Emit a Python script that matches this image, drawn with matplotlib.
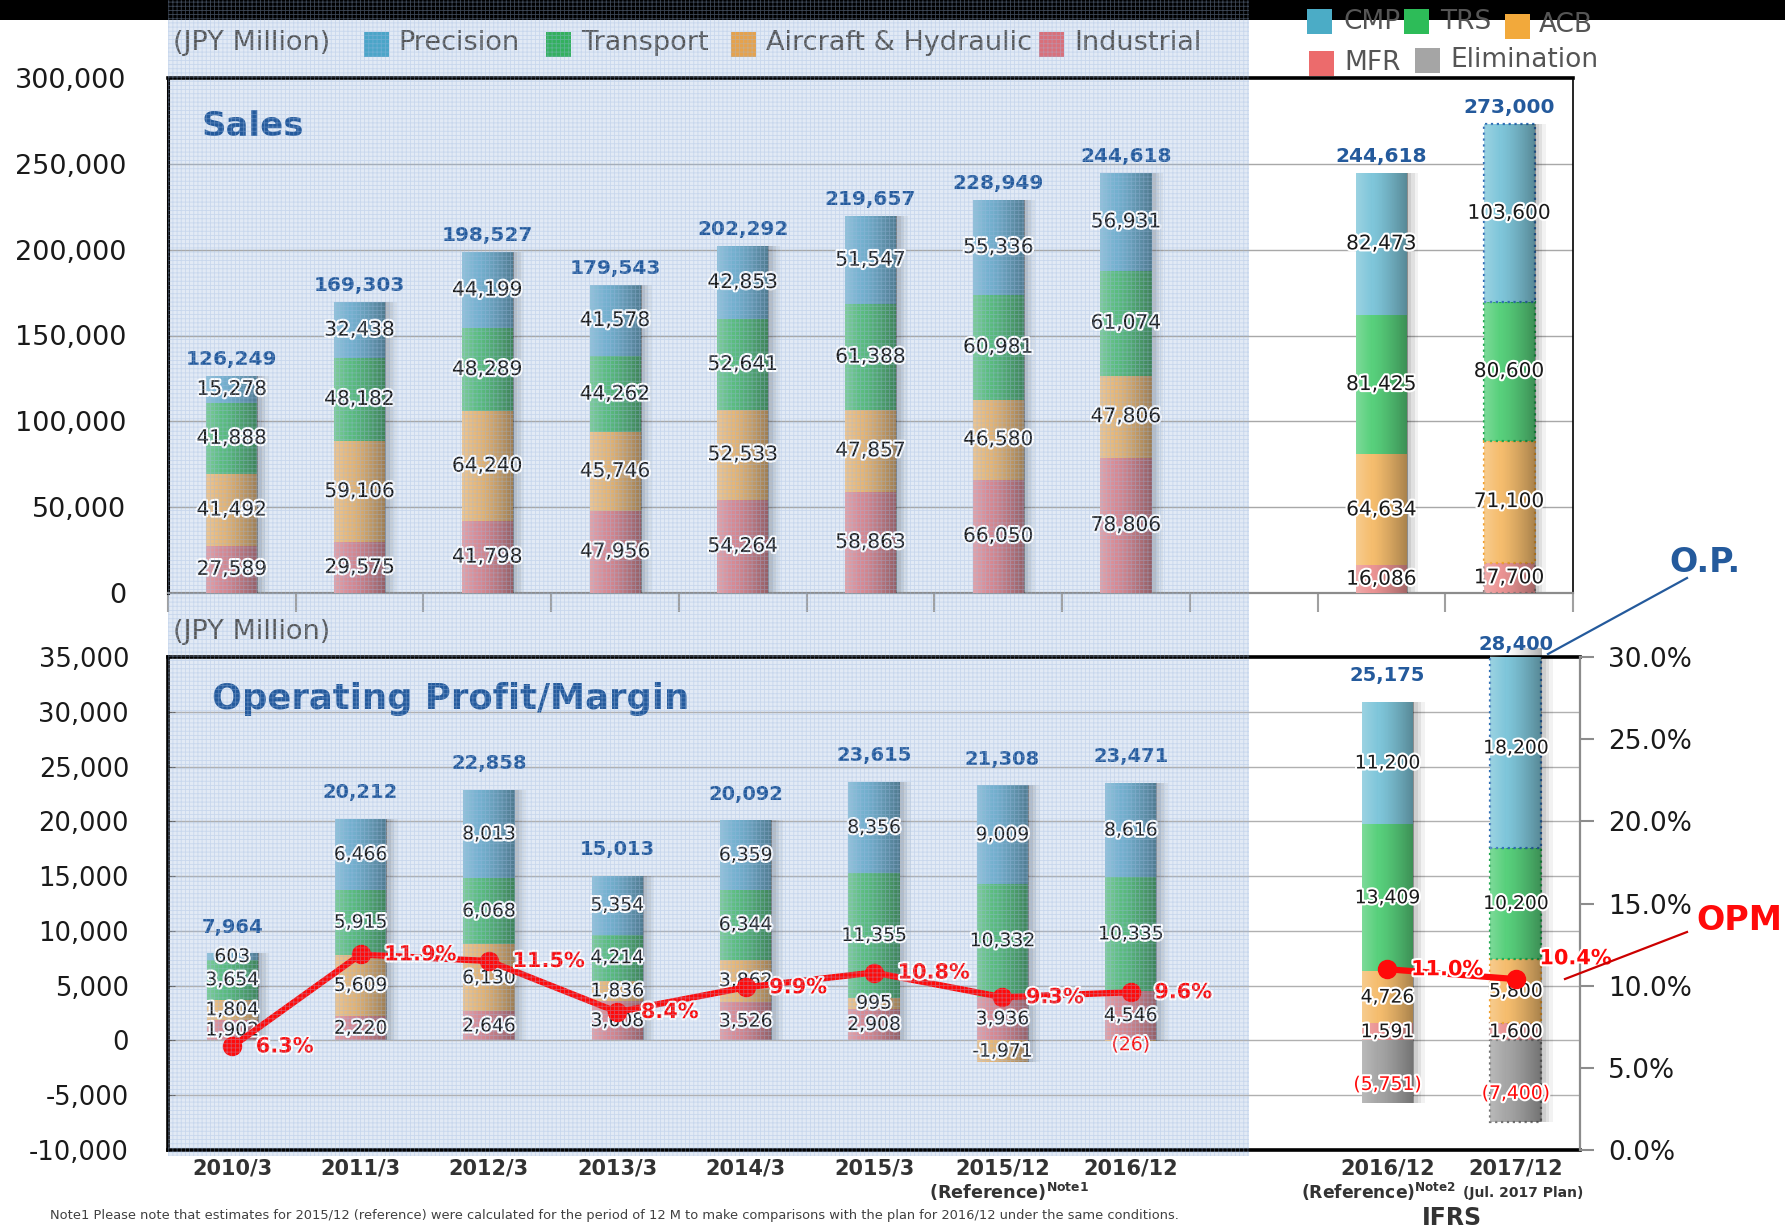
import numpy as np
import matplotlib
matplotlib.use("Agg")
import matplotlib.pyplot as plt
import matplotlib.patheffects as pe
import matplotlib.ticker as mticker
from matplotlib.patches import Rectangle
from matplotlib.lines import Line2D
from matplotlib.transforms import blended_transform_factory

W, H, DPI = 1785, 1229, 100
plt.rcParams['font.family'] = ['DejaVu Sans']
plt.rcParams['hatch.linewidth'] = 0.6

# datos -------------------------------------------------------------------------------------
categories = ["2010/3", "2011/3", "2012/3", "2013/3", "2014/3", "2015/3", "2015/12", "2016/12"]
ifrs_categories = ["2016/12", "2017/12"]

sales_industrial = [27589, 29575, 41798, 47956, 54264, 58863, 66050, 78806]
sales_aircraft = [41492, 59106, 64240, 45746, 52533, 47857, 46580, 47806]
sales_transport = [41888, 48182, 48289, 44262, 52641, 61388, 60981, 61074]
sales_precision = [15278, 32438, 44199, 41578, 42853, 51547, 55336, 56931]
sales_total = [126249, 169303, 198527, 179543, 202292, 219657, 228949, 244618]

ifrs_sales_mfr = [16086, 17700]
ifrs_sales_acb = [64634, 71100]
ifrs_sales_trs = [81425, 80600]
ifrs_sales_cmp = [82473, 103600]
ifrs_sales_total = [244618, 273000]

op_industrial = [1902, 2220, 2646, 3608, 3526, 2908, 3936, 4546]
op_aircraft = [1804, 5609, 6130, 1836, 3862, 995, -1971, -26]
op_transport = [3654, 5915, 6068, 4214, 6344, 11355, 10332, 10335]
op_precision = [603, 6466, 8013, 5354, 6359, 8356, 9009, 8616]
op_total = [7964, 20212, 22858, 15013, 20092, 23615, 21308, 23471]
opm = [6.3, 11.9, 11.5, 8.4, 9.9, 10.8, 9.3, 9.6]

ifrs_op_mfr = [1591, 1600]
ifrs_op_acb = [4726, 5800]
ifrs_op_trs = [13409, 10200]
ifrs_op_cmp = [11200, 18200]
ifrs_op_elim = [-5751, -7400]
ifrs_op_total = [25175, 28400]
ifrs_opm = [11.0, 10.4]

sales_ticks = [0, 50000, 100000, 150000, 200000, 250000, 300000]
op_ticks = [-10000, -5000, 0, 5000, 10000, 15000, 20000, 25000, 30000, 35000]
opm_ticks = [0, 5, 10, 15, 20, 25, 30]

# estilos -----------------------------------------------------------------------------------
BLUE = "#245a9c"
RED = "#ff0a0a"
TXT = "#1a1a1a"
GRAYTXT = "#555555"
HALO = [pe.withStroke(linewidth=3, foreground="white")]
BAR_W = 0.40

COL_LEFT = ["#d88a93", "#e6b677", "#5bbd80", "#74b1cf"]           # industrial, aircraft, transport, precision
COL_RIGHT = ["#eb9494", "#f5bd6e", "#58d07c", "#7fc6da", "#a6a6a6"]  # mfr, acb, trs, cmp, elim
EDGE_RIGHT = ["#9a8080", "#f0a030", "#1fa84f", "#2f6fb5", "#707070"]

# gradiente horizontal tipo cilindro
t = np.linspace(0, 1, 64)
GRAD = np.zeros((1, 64, 4))
light = t < 0.3
GRAD[0, light, :3] = 1.0
GRAD[0, light, 3] = 0.22 * (1 - t[light] / 0.3)
GRAD[0, ~light, 3] = 0.32 * ((t[~light] - 0.3) / 0.7) ** 1.3


def fx(px):
    return px / W


def fy(py):
    return 1 - py / H


def shade(ax, patch):
    x0, w = patch.get_x(), patch.get_width()
    y0, h = patch.get_y(), patch.get_height()
    im = ax.imshow(GRAD, extent=(x0, x0 + w, min(y0, y0 + h), max(y0, y0 + h)),
                   aspect="auto", interpolation="bilinear", zorder=3.2)
    im.set_clip_path(patch)


def draw_stack(ax, xs, layers, colors, plan_idx=None, edges=None):
    xs = np.asarray(xs, float)
    pos = np.zeros(len(xs))
    neg = np.zeros(len(xs))
    bottoms = []
    for k, (vals, col) in enumerate(zip(layers, colors)):
        vals = np.asarray(vals, float)
        bottom = np.where(vals >= 0, pos, neg)
        bars = ax.bar(xs, vals, BAR_W, bottom=bottom, color=col, linewidth=0, zorder=3)
        for j, p in enumerate(bars.patches):
            shade(ax, p)
            if plan_idx is not None and j == plan_idx:
                p.set_edgecolor(edges[k])
                p.set_linewidth(1.6)
                p.set_linestyle(":")
        bottoms.append(bottom)
        pos = pos + np.where(vals > 0, vals, 0)
        neg = neg + np.where(vals < 0, vals, 0)
    # sombra suave a la derecha
    for off, a in [(0.09, 0.05), (0.06, 0.07), (0.035, 0.08)]:
        ax.bar(xs + off, pos - neg, BAR_W, bottom=neg, color="k", alpha=a, linewidth=0, zorder=2.5)
    return pos, neg, bottoms


def plain(v):
    return f"{int(v):,}", TXT, 0


def paren_red(v):
    return f"({abs(int(v)):,})", RED, -9


def op_air(v):
    # los negativos pequeños aparecen entre parentesis en rojo
    if -100 < v < 0:
        return f"({abs(int(v)):,})", RED, -3
    return plain(v)


def label_segments(ax, xs, layers, bottoms, fs, styles):
    for vals, bots, style in zip(layers, bottoms, styles):
        for x, v, b in zip(xs, vals, bots):
            txt, col, dy = style(v)
            ax.annotate(txt, (x, b + v / 2), xytext=(0, dy), textcoords="offset points",
                        ha="center", va="center", fontsize=fs, color=col, zorder=8,
                        path_effects=HALO)


fig = plt.figure(figsize=(W / DPI, H / DPI), dpi=DPI, facecolor="white")

# banda negra superior y fondo azul de la zona historica
fig.patches.append(Rectangle((0, fy(20)), 1, 20 / H, transform=fig.transFigure,
                             facecolor="black", edgecolor="none", zorder=-5))
fig.patches.append(Rectangle((fx(168), fy(1156)), fx(1249 - 168), (1156 - 20) / H, transform=fig.transFigure,
                             facecolor="#e2eaf5", edgecolor="none", zorder=-4))

x_left = np.arange(len(categories))
x_ifrs = np.array([9, 10])

# ---------------------------------------------------------------- ventas
ax_s = fig.add_axes([fx(168), fy(593), fx(1573 - 168), (593 - 78) / H])
ax_s.set_facecolor("none")
_, _, b_l = draw_stack(ax_s, x_left, [sales_industrial, sales_aircraft, sales_transport, sales_precision], COL_LEFT)
_, _, b_r = draw_stack(ax_s, x_ifrs, [ifrs_sales_mfr, ifrs_sales_acb, ifrs_sales_trs, ifrs_sales_cmp],
                       COL_RIGHT[:4], plan_idx=1, edges=EDGE_RIGHT)
label_segments(ax_s, x_left, [sales_industrial, sales_aircraft, sales_transport, sales_precision], b_l, 14.5, [plain] * 4)
label_segments(ax_s, x_ifrs, [ifrs_sales_mfr, ifrs_sales_acb, ifrs_sales_trs, ifrs_sales_cmp], b_r, 14.5, [plain] * 4)
for x, tot in zip(list(x_left) + list(x_ifrs), sales_total + ifrs_sales_total):
    ax_s.annotate(f"{tot:,}", (x, tot), xytext=(0, 5), textcoords="offset points", ha="center",
                  va="bottom", fontsize=14.5, fontweight="bold", color=BLUE, zorder=8)

ax_s.set_xlim(-0.5, 10.5)
ax_s.set_ylim(0, 300000)
ax_s.set_yticks(sales_ticks)
ax_s.yaxis.set_major_formatter(mticker.FuncFormatter(lambda v, p: f"{int(v):,}"))
ax_s.tick_params(axis="y", length=0, pad=30, labelsize=19.5, labelcolor=TXT)
ax_s.set_xticks([])
ax_s.set_xticks(np.arange(-0.5, 11, 1), minor=True)
ax_s.tick_params(axis="x", which="minor", length=14, width=1.5, color="#a0a0a0", direction="out")
ax_s.set_axisbelow(True)
ax_s.yaxis.grid(True, color="#a8a8a8", linewidth=1.0)
ax_s.spines["left"].set_linewidth(2.2)
ax_s.spines["top"].set_linewidth(2.6)
ax_s.spines["right"].set_linewidth(1.2)
ax_s.spines["bottom"].set_color("#8c8c8c")
ax_s.spines["bottom"].set_linewidth(1.6)
ax_s.text(0.024, 0.905, "Sales", transform=ax_s.transAxes, fontsize=24.5, fontweight="bold",
          color=BLUE, va="center", ha="left")

# ---------------------------------------------------------------- resultado operativo
ax_op = fig.add_axes([fx(168), fy(1150), fx(1580 - 168), (1150 - 657) / H])
ax_op.set_facecolor("none")
op_layers = [op_industrial, op_aircraft, op_transport, op_precision]
ifrs_layers = [ifrs_op_mfr, ifrs_op_acb, ifrs_op_trs, ifrs_op_cmp, ifrs_op_elim]
pos_l, _, ob_l = draw_stack(ax_op, x_left, op_layers, COL_LEFT)
pos_r, _, ob_r = draw_stack(ax_op, x_ifrs, ifrs_layers, COL_RIGHT, plan_idx=1, edges=EDGE_RIGHT)
label_segments(ax_op, x_left, op_layers, ob_l, 13.5, [plain, op_air, plain, plain])
label_segments(ax_op, x_ifrs, ifrs_layers, ob_r, 13.5, [plain, plain, plain, plain, paren_red])

OP_TOP = 35000
for x, tot, top in zip(list(x_left) + list(x_ifrs), op_total + ifrs_op_total, list(pos_l) + list(pos_r)):
    clipped = top > OP_TOP
    ax_op.annotate(f"{tot:,}", (x, min(top, OP_TOP)), xytext=(0, 2 if clipped else 12),
                   textcoords="offset points", ha="center", va="bottom", fontsize=14,
                   fontweight="bold", color=BLUE, zorder=8, annotation_clip=False)

ax_op.set_xlim(-0.5, 10.5)
ax_op.set_ylim(-10000, OP_TOP)
ax_op.set_yticks(op_ticks)
ax_op.yaxis.set_major_formatter(mticker.FuncFormatter(lambda v, p: f"{int(v):,}"))
ax_op.tick_params(axis="y", direction="in", length=5, color="#666666", pad=28, labelsize=18.5, labelcolor=TXT)
ax_op.set_xticks([])
ax_op.set_axisbelow(True)
ax_op.yaxis.grid(True, color="#b0b0b0", linewidth=1.0)
for s in ["left", "top", "bottom"]:
    ax_op.spines[s].set_linewidth(2.6)
ax_op.spines["right"].set_visible(False)
ax_op.text(0.031, 0.915, "Operating Profit/Margin", transform=ax_op.transAxes, fontsize=25.5,
           fontweight="bold", color=BLUE, va="center", ha="left")

ax_r = ax_op.twinx()
ax_r.set_ylim(0, 30)
ax_r.set_yticks(opm_ticks)
ax_r.yaxis.set_major_formatter(mticker.FuncFormatter(lambda v, p: f"{v:.1f}%"))
ax_r.tick_params(axis="y", direction="out", length=10, width=1.5, color="#8c8c8c", pad=10,
                 labelsize=19, labelcolor=TXT)
for s in ["left", "top", "bottom"]:
    ax_r.spines[s].set_visible(False)
ax_r.spines["right"].set_color("#8c8c8c")
ax_r.spines["right"].set_linewidth(1.6)
for xs, vals in [(x_left, opm), (x_ifrs, ifrs_opm)]:
    ax_r.plot(xs, vals, color=RED, linewidth=4.5, marker="o", markersize=13, zorder=5)
    for i, (x, v) in enumerate(zip(xs, vals)):
        dy = 15 if (xs is x_ifrs and i == 1) else 0
        ax_r.annotate(f"{v:.1f}%", (x, v), xytext=(17, dy), textcoords="offset points", ha="left",
                      va="center", fontsize=15, fontweight="bold", color=RED, zorder=9,
                      path_effects=HALO)

# etiquetas de categoria
trans = blended_transform_factory(ax_op.transData, fig.transFigure)
for x, c in zip(list(x_left) + list(x_ifrs), categories + ifrs_categories):
    ax_op.text(x, fy(1158), c, transform=trans, ha="center", va="top", fontsize=15,
               fontweight="bold", color="#333333")
ax_op.text(6.05, fy(1181), r"(Reference)$^{\mathbf{Note1}}$", transform=trans, ha="center", va="top",
           fontsize=12.7, fontweight="bold", color="#333333")
ax_op.text(8.93, fy(1181), r"(Reference)$^{\mathbf{Note2}}$", transform=trans, ha="center", va="top",
           fontsize=12.3, fontweight="bold", color="#333333")
ax_op.text(10.06, fy(1186), "(Jul. 2017 Plan)", transform=trans, ha="center", va="top",
           fontsize=10, fontweight="bold", color="#333333")
ax_op.text(9.5, fy(1218), "IFRS", transform=trans, ha="center", va="center",
           fontsize=17, fontweight="bold", color="#333333")

fig.text(fx(50), fy(1216), "Note1 Please note that estimates for 2015/12 (reference) were calculated for the "
         "period of 12 M to make comparisons with the plan for 2016/12 under the same conditions.",
         fontsize=9.4, color="#404040", va="center", ha="left")

# leyendas
fig.text(fx(173), fy(43), "(JPY Million)", fontsize=19.5, color=GRAYTXT, va="center", zorder=4)
fig.text(fx(173), fy(632), "(JPY Million)", fontsize=19.5, color=GRAYTXT, va="center", zorder=4)


def legend_item(x_sq, y_sq, size, color, x_txt, y_txt, label, fs):
    fig.patches.append(Rectangle((fx(x_sq), fy(y_sq + size)), size / W, size / H, transform=fig.transFigure,
                                 facecolor=color, edgecolor="none", zorder=4))
    fig.text(fx(x_txt), fy(y_txt), label, fontsize=fs, color=GRAYTXT, va="center", zorder=4)


legend_item(364, 32, 25, "#4ba5c8", 398, 43, "Precision", 19.5)
legend_item(546, 32, 25, "#33b05e", 581, 43, "Transport", 19.5)
legend_item(731, 32, 25, "#e6a24c", 766, 43, "Aircraft & Hydraulic", 19.5)
legend_item(1039, 32, 25, "#d9707a", 1074, 43, "Industrial", 19.5)

legend_item(1307, 9, 25, "#4bacc6", 1343, 22, "CMP", 19)
legend_item(1404, 9, 25, "#2dbc58", 1440, 22, "TRS", 19)
legend_item(1505, 14, 25, "#f2a93b", 1539, 25, "ACB", 19)
legend_item(1309, 51, 25, "#ec6b6c", 1344, 63, "MFR", 19)
legend_item(1415, 48, 25, "#a5a5a5", 1450, 60, "Elimination", 19)

# anotaciones O.P. / OPM
fig.text(fx(1705), fy(563), "O.P.", fontsize=24, fontweight="bold", color=BLUE, ha="center", va="center")
fig.lines.append(Line2D([fx(1687), fx(1548)], [fy(578), fy(654)], transform=fig.transFigure,
                        color=BLUE, linewidth=1.6))
fig.text(fx(1739), fy(920), "OPM", fontsize=24, fontweight="bold", color=RED, ha="center", va="center")
fig.lines.append(Line2D([fx(1687), fx(1565)], [fy(932), fy(979)], transform=fig.transFigure,
                        color="#cc0000", linewidth=1.6))

# trama azul sobre la zona historica
fig.patches.append(Rectangle((fx(168), fy(1156)), fx(1249 - 168), 1156 / H, transform=fig.transFigure,
                             facecolor="none", edgecolor=(0.62, 0.73, 0.88, 0.38),
                             linewidth=0, hatch="++++", zorder=10))

fig.savefig("out.png", dpi=DPI)
